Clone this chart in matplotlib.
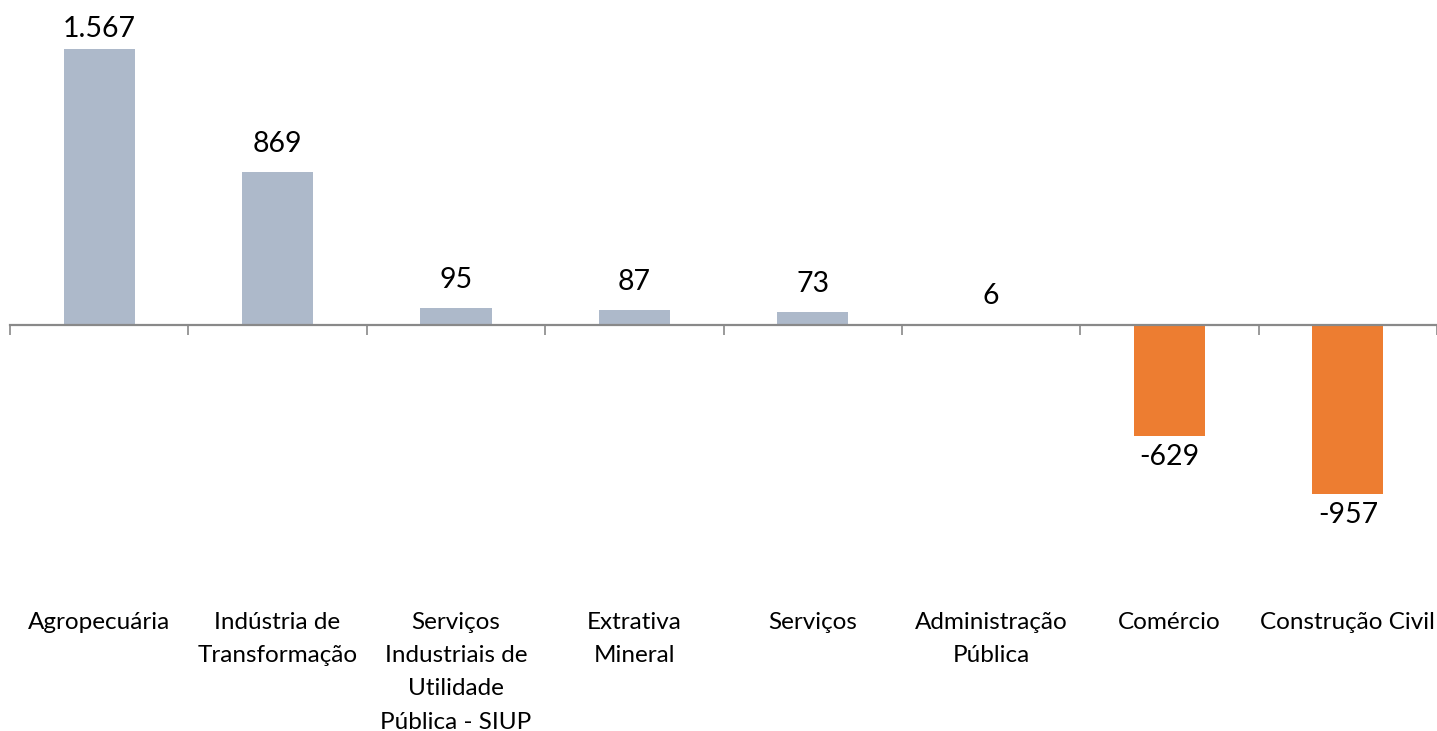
import matplotlib
matplotlib.use("Agg")
import matplotlib.pyplot as plt
import matplotlib.transforms as mtransforms

categories = ["Agropecuária", "Indústria de\nTransformação",
              "Serviços\nIndustriais de\nUtilidade\nPública - SIUP",
              "Extrativa\nMineral", "Serviços", "Administração\nPública",
              "Comércio", "Construção Civil"]
values = [1567, 869, 95, 87, 73, 6, -629, -957]
value_labels = ["1.567", "869", "95", "87", "73", "6", "-629", "-957"]

pos_color = "#ADB9CA"
neg_color = "#ED7D31"

plt.rcParams['font.family'] = ['Lato', 'DejaVu Sans']

W, H = 1437, 731
fig = plt.figure(figsize=(W/100, H/100), dpi=100)
ax = fig.add_axes([10/W, 0, (1437-10)/W, 1])

n = len(categories)
colors = [pos_color if v >= 0 else neg_color for v in values]
x = list(range(n))
ax.bar(x, values, width=0.4, color=colors, zorder=2)

ax.set_xlim(-0.5, n - 0.5)
# zero at pixel 325 from top; 1567 -> pixel 49
scale = (325 - 49) / 1567  # px per unit
top = 325 / scale
bottom = -(H - 325) / scale
ax.set_ylim(bottom, top)

for s in ['top', 'right', 'left']:
    ax.spines[s].set_visible(False)
ax.spines['bottom'].set_position(('data', 0))
ax.spines['bottom'].set_color('#898989')
ax.spines['bottom'].set_linewidth(1.6)
ax.spines['bottom'].set_zorder(3)
ax.set_yticks([])
ax.set_xticks([i - 0.5 for i in range(n + 1)])
ax.set_xticklabels([])
ax.tick_params(axis='x', direction='out', length=7, width=1.2, color='#898989')

fs_val = 20.5
pt2px = 100 / 72
for i, (v, lab) in enumerate(zip(values, value_labels)):
    if v >= 0:
        # baseline about 20 px above bar top, but keep label inside the figure
        bar_top_px = 325 - v * scale
        base_px = bar_top_px - 20
        min_base_px = 37
        base_px = max(base_px, min_base_px)
        off = (bar_top_px - base_px) / pt2px
        ax.annotate(lab, (i, v), xytext=(0, off), textcoords='offset points',
                    ha='center', va='baseline', fontsize=fs_val, color='black')
    else:
        ax.annotate(lab, (i, v), xytext=(0, -6), textcoords='offset points',
                    ha='center', va='top', fontsize=fs_val, color='black')

trans = mtransforms.blended_transform_factory(ax.transData, ax.transAxes)
for i, c in enumerate(categories):
    ax.text(i, 1 - 612 / H, c, transform=trans, ha='center', va='top',
            fontsize=17.5, linespacing=1.72, color='black')

fig.savefig("out.png", dpi=100)
